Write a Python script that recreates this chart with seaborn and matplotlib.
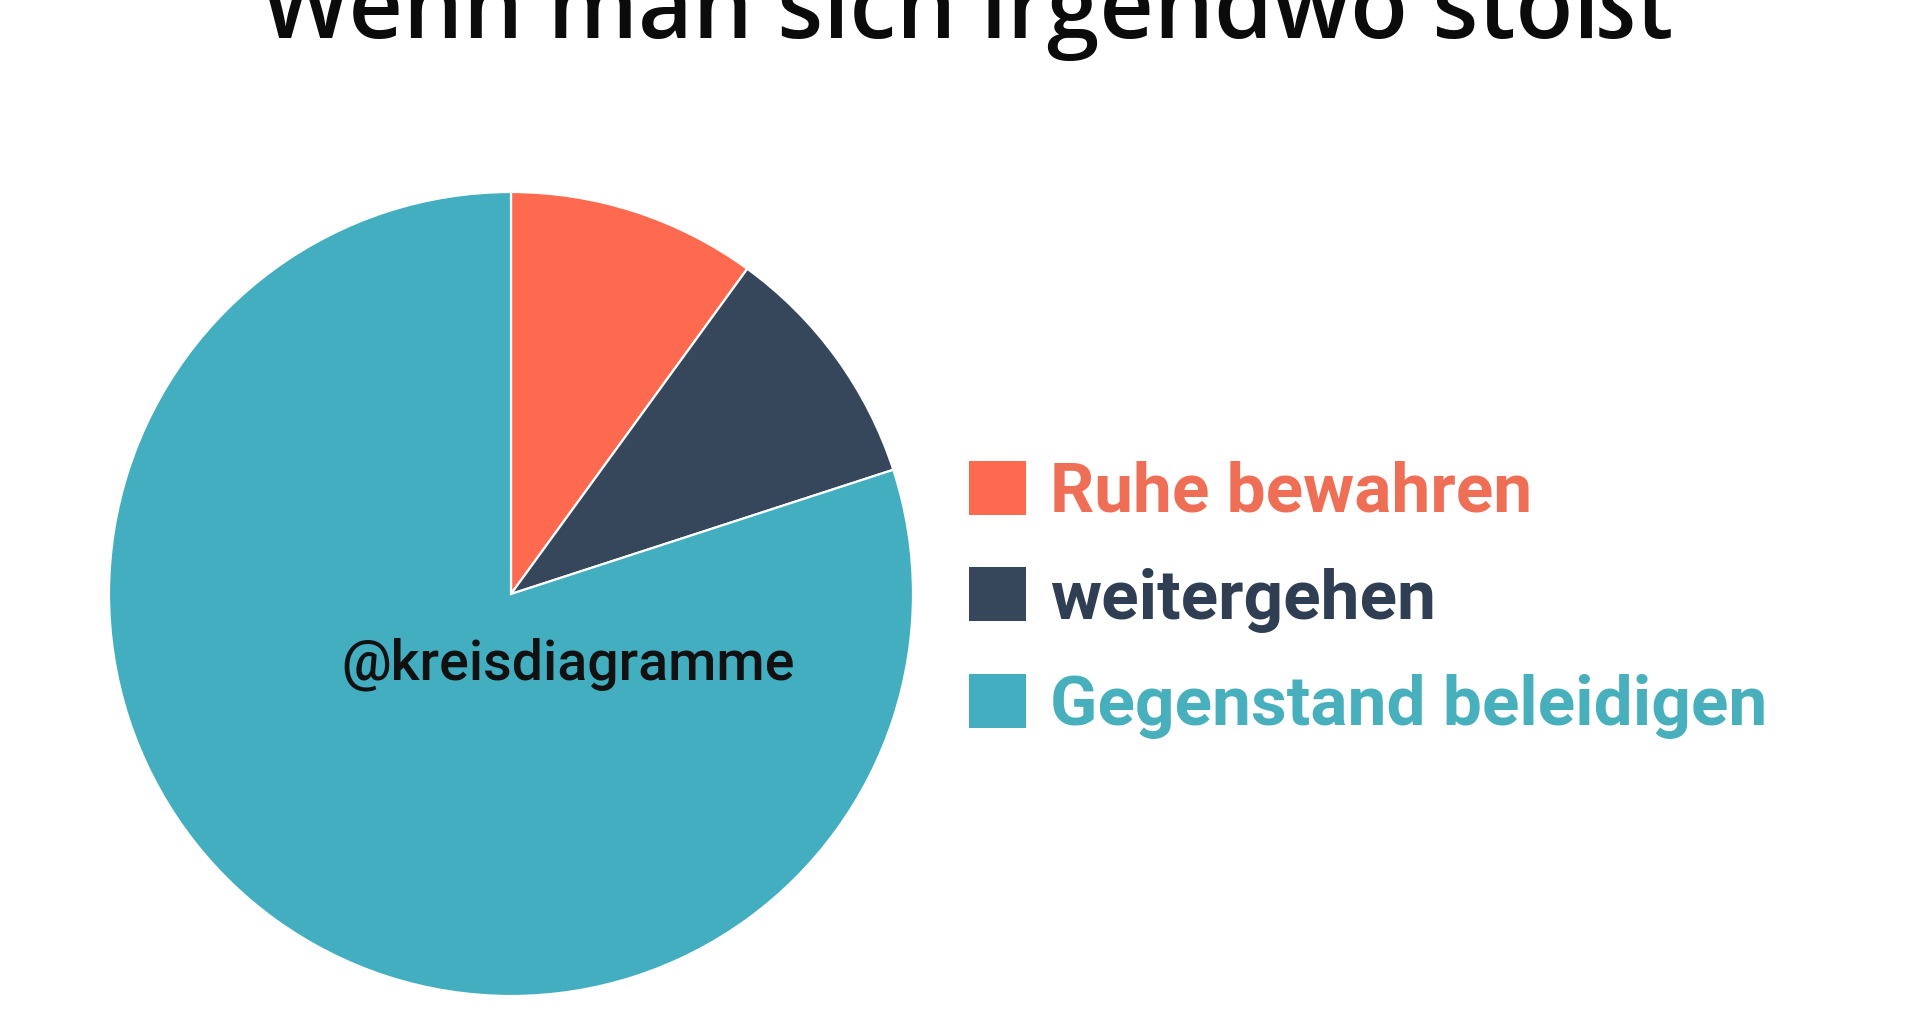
import matplotlib
matplotlib.use("Agg")
import matplotlib.pyplot as plt
import seaborn as sns
from matplotlib.patches import Patch

# data
labels = ["Ruhe bewahren", "weitergehen", "Gegenstand beleidigen"]
values = [10, 10, 80]
slice_colors = ["#FD6A4F", "#36475C", "#42AEC0"]
text_colors = ["#EE6F56", "#2F3E52", "#48AFBD"]
title = "Wenn man sich irgendwo stößt"
watermark = "@kreisdiagramme"

sns.set_theme(style="white")
plt.rcParams["font.family"] = ["Roboto", "DejaVu Sans"]

W, H = 1920, 1024
fig = plt.figure(figsize=(W / 100, H / 100), dpi=100)
fig.patch.set_facecolor("white")

# pie: centre ~ (512, 594) px, radius ~ 401 px
cx, cy, r = 511, 594, 402
ax = fig.add_axes([(cx - r) / W, (H - cy - r) / H, 2 * r / W, 2 * r / H])
palette = sns.color_palette(slice_colors)
ax.pie(values, colors=palette, startangle=90, counterclock=False,
       radius=1, wedgeprops=dict(edgecolor="white", linewidth=1.6))
ax.set_xlim(-1, 1)
ax.set_ylim(-1, 1)
ax.set_aspect("equal")
ax.axis("off")

# title (cut off at the top like the source)
fig.text(967 / W, 1 - 38 / H, title, ha="center", va="baseline",
         fontsize=68, fontweight="semibold", color="#0b0b0b",
         family=["Open Sans", "DejaVu Sans"])

# watermark
fig.text(568 / W, 1 - 664 / H, watermark, ha="center", va="center",
         fontsize=40, fontweight="medium", color="#111111",
         family=["Roboto", "DejaVu Sans"])

handles = [Patch(facecolor=c, edgecolor="none") for c in palette]
leg = fig.legend(handles, labels, loc="center left",
                 bbox_to_anchor=(969 / W, 1 - 600 / H),
                 frameon=False, borderpad=0, borderaxespad=0,
                 handlelength=0.82, handleheight=0.82, handletextpad=0.34,
                 labelspacing=0.6,
                 prop=dict(family="Roboto", weight="bold", size=50),
                 labelcolor=text_colors)

fig.savefig("out.png", dpi=100, facecolor="white")
